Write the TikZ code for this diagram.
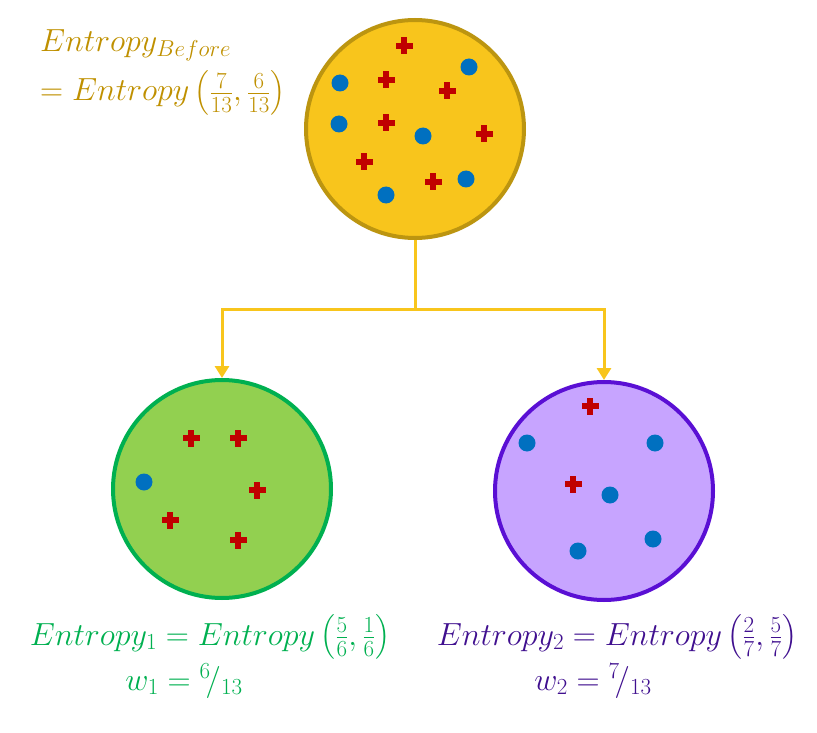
\documentclass[tikz,border=0pt]{standalone}
\usepackage{fix-cm}
\usepackage{amsmath}
\usetikzlibrary{arrows.meta, positioning}
\DeclareMathSizes{32}{32}{23}{17}

\definecolor{goldfill}{HTML}{F8C51C}
\definecolor{goldline}{HTML}{BC9510}
\definecolor{goldtext}{HTML}{BF9000}
\definecolor{greenfill}{HTML}{92D050}
\definecolor{greenline}{HTML}{00B050}
\definecolor{purplefill}{HTML}{C7A4FF}
\definecolor{purpleline}{HTML}{5A0FD4}
\definecolor{purpletext}{HTML}{40108F}
\definecolor{dotblue}{HTML}{0070C0}
\definecolor{plusred}{HTML}{C00000}

\tikzset{
  bag/.style={circle, line width=4pt, minimum size=218pt, inner sep=0pt},
  link/.style={goldfill, line width=3pt},
  label/.style={font=\fontsize{32}{38}\selectfont, inner sep=0pt},
  dot/.pic={\fill[dotblue] (0,0) circle (8.5);},
  plus/.pic={\fill[plusred] (-8.5,-2.8) rectangle (8.5,2.8);
             \fill[plusred] (-2.8,-8.5) rectangle (2.8,8.5);}
}

\begin{document}
\begin{tikzpicture}[x=1pt, y=-1pt]
\useasboundingbox (0,0) rectangle (817,733);

% the three sets
\node[bag, draw=goldline, fill=goldfill] (before) at (415,129) {};
\node[bag, draw=greenline, fill=greenfill] (left) at (222,489) {};
\node[bag, draw=purpleline, fill=purplefill] (right) at (604,491) {};

% the split
\coordinate (split) at (415,309);
\draw[link] (before.south) -- (split);
\draw[link, -{Triangle[width=14pt, length=12pt]}] (split) -| (left.north);
\draw[link, -{Triangle[width=14pt, length=12pt]}] (split) -| (right.north);

% parent set: 7 plus, 6 dots
\pic at (404,46) {plus};
\pic at (386,80) {plus};
\pic at (447,91) {plus};
\pic at (386,123) {plus};
\pic at (484,134) {plus};
\pic at (364,162) {plus};
\pic at (433,182) {plus};
\pic at (469,67) {dot};
\pic at (340,83) {dot};
\pic at (339,124) {dot};
\pic at (423,136) {dot};
\pic at (466,179) {dot};
\pic at (386,195) {dot};

% left set: 5 plus, 1 dot
\pic at (191,438) {plus};
\pic at (238,438) {plus};
\pic at (257,490) {plus};
\pic at (170,520) {plus};
\pic at (238,540) {plus};
\pic at (144,482) {dot};

% right set: 2 plus, 5 dots
\pic at (590,406) {plus};
\pic at (573,484) {plus};
\pic at (527,443) {dot};
\pic at (655,443) {dot};
\pic at (610,495) {dot};
\pic at (578,551) {dot};
\pic at (653,539) {dot};

% labels
\node[label, text=goldtext, anchor=base west] (hbefore) at (40,52) {$Entropy_{Before}$};
\node[label, text=goldtext, anchor=base west] (hbeforeval) at (40,101)
  {$= Entropy\left(\tfrac{7}{13},\tfrac{6}{13}\right)$};
\node[label, text=greenline, anchor=base] (hleft) at (210,645)
  {$Entropy_1 = Entropy\left(\tfrac{5}{6},\tfrac{1}{6}\right)$};
\node[label, text=greenline, anchor=base] (wleft) at (184,690) {$w_1 = {}^{6}\!/_{13}$};
\node[label, text=purpletext, anchor=base] (hright) at (617,645)
  {$Entropy_2 = Entropy\left(\tfrac{2}{7},\tfrac{5}{7}\right)$};
\node[label, text=purpletext, anchor=base] (wright) at (593,690) {$w_2 = {}^{7}\!/_{13}$};
\end{tikzpicture}
\end{document}
